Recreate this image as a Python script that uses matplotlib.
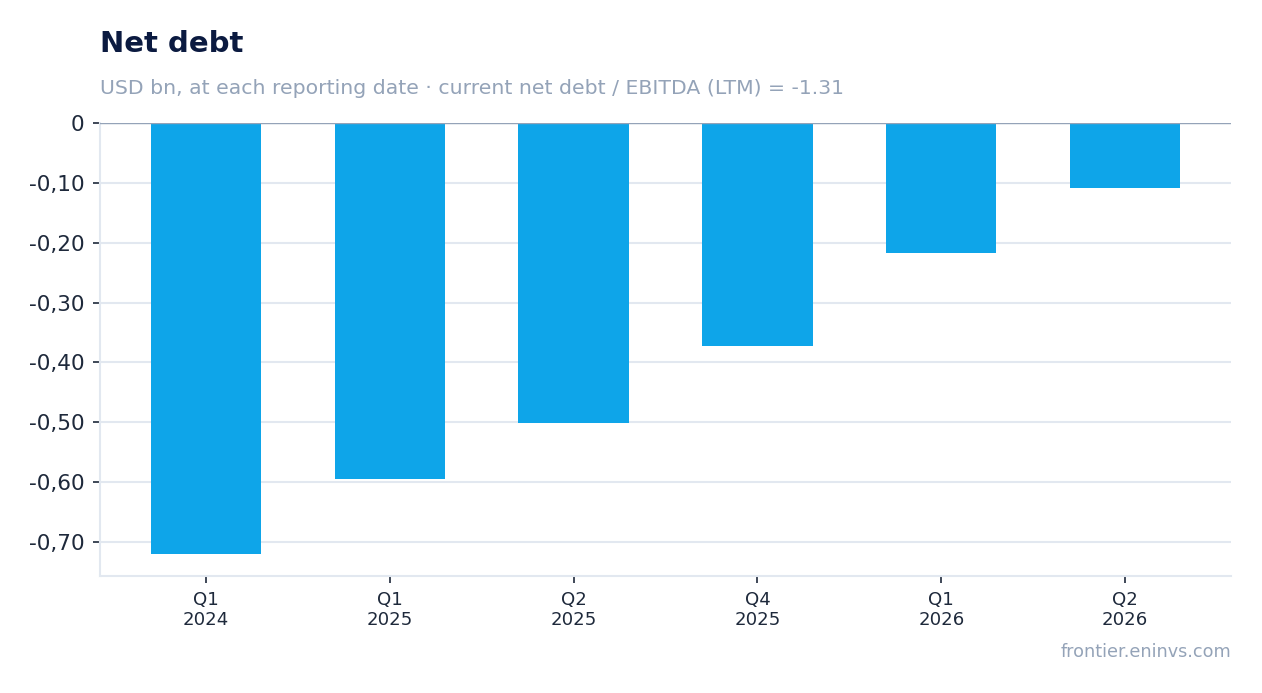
import numpy as np
import matplotlib
matplotlib.use('Agg')
import matplotlib.pyplot as plt
from matplotlib.ticker import FuncFormatter

quarters = ['Q1\n2024', 'Q1\n2025', 'Q2\n2025', 'Q4\n2025', 'Q1\n2026', 'Q2\n2026']
net_debt = [-0.720, -0.595, -0.501, -0.373, -0.217, -0.109]
yticks = [0, -0.1, -0.2, -0.3, -0.4, -0.5, -0.6, -0.7]

title = 'Net debt'
subtitle = 'USD bn, at each reporting date \u00b7 current net debt / EBITDA (LTM) = -1.31'
source = 'frontier.eninvs.com'

plt.rcParams['font.family'] = 'DejaVu Sans'

fig = plt.figure(figsize=(12.62, 6.93), dpi=100)
ax = fig.add_axes([100/1262, 1-576/693, (1231-100)/1262, (576-123)/693])

x = np.arange(len(quarters))
ax.bar(x, net_debt, width=0.6, color='#0ea5e9', zorder=3)
ax.axhline(0, color='#94a3b8', lw=1, zorder=4)

ax.set_xlim(-0.576, len(quarters) - 1 + 0.576)
ax.set_ylim(-0.757, 0)
ax.set_xticks(x)
ax.set_xticklabels(quarters, fontsize=13.1, color='#1e293b', linespacing=1.15)
ax.set_yticks(yticks)


def fmt(v, pos):
    if abs(v) < 1e-9:
        return '0'
    return f'{v:.2f}'.replace('.', ',')


ax.yaxis.set_major_formatter(FuncFormatter(fmt))
ax.tick_params(axis='y', labelsize=15.6, colors='#1e293b', length=5, width=1.2, pad=6)
ax.tick_params(axis='x', colors='#1e293b', length=5, width=1.2, pad=6)
ax.grid(axis='y', color='#e2e8f0', lw=1.5, zorder=0)

for s in ['top', 'right']:
    ax.spines[s].set_visible(False)
for s in ['left', 'bottom']:
    ax.spines[s].set_color('#e2e8f0')
    ax.spines[s].set_linewidth(1.5)

fig.text(100/1262, 1-44/693, title, fontsize=21, fontweight='bold', color='#0b1a40', va='center')
fig.text(100/1262, 1-88/693, subtitle, fontsize=14.7, color='#94a3b8', va='center')
fig.text(1231/1262, 1-652/693, source, fontsize=12.7, color='#94a3b8', va='center', ha='right')

fig.savefig('out.png', dpi=100)
